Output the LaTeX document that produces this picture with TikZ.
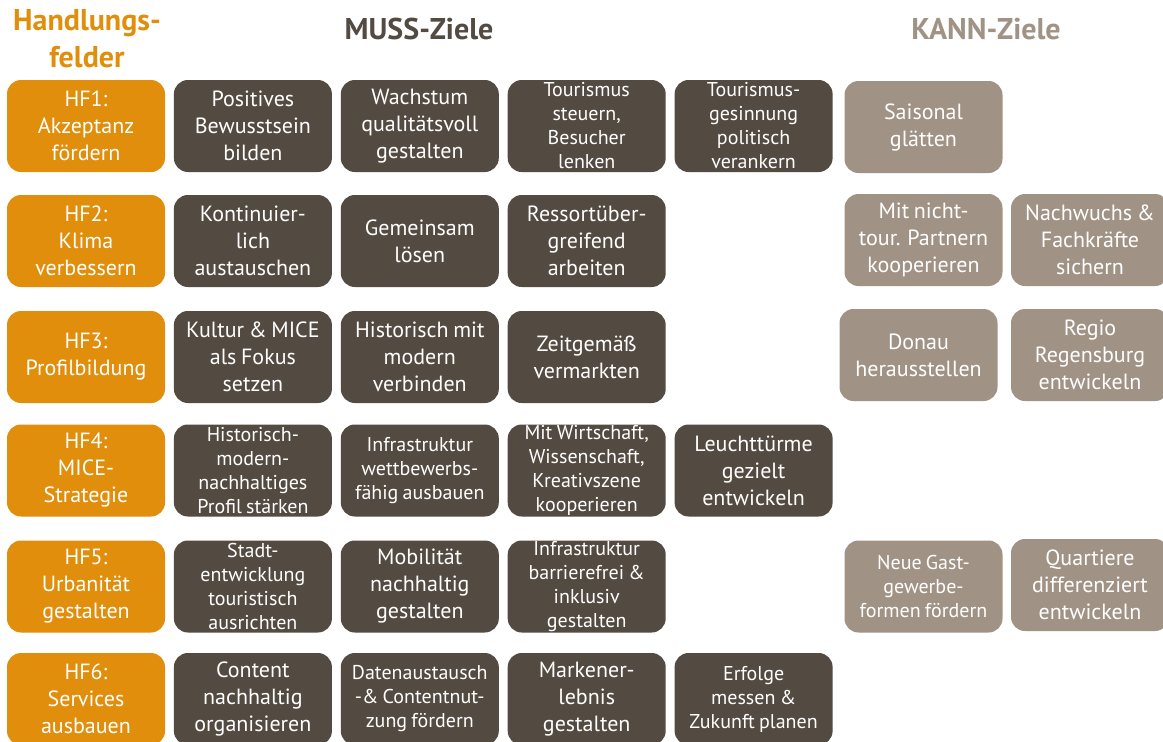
\documentclass[tikz,border=0pt]{standalone}
\usepackage{fontspec}
\setmainfont[WordSpace=0.8]{PT Sans}
\usetikzlibrary{positioning}
\definecolor{hforange}{RGB}{224,142,11}
\definecolor{mussbrown}{RGB}{83,74,66}
\definecolor{kanngray}{RGB}{160,147,134}
\tikzset{
  goal/.style={rounded corners=14pt, text=white, align=center,
    minimum width=158pt, minimum height=92pt, inner sep=0pt,
    font=\fontsize{22}{27}\selectfont},
  hfBlock/.style={goal, fill=hforange},
  mussBlock/.style={goal, fill=mussbrown},
  kannBlock/.style={goal, fill=kanngray},
  smalltext/.style={font=\fontsize{20}{24}\selectfont},
  heading/.style={font=\bfseries\fontsize{30}{37}\selectfont, align=center}
}

\begin{document}
\begin{tikzpicture}[x=1pt,y=-1pt]

\useasboundingbox (0,0) rectangle (1163,742);

% Headings
\node[heading, text=hforange] (hfTitle) at (87,39) {Handlungs-\\felder};
\node[heading, text=mussbrown] (mussTitle) at (419,29) {MUSS-Ziele};
\node[heading, text=kanngray] (kannTitle) at (986,29) {KANN-Ziele};

% HF1
\node[hfBlock] (hf1) at (86,126) {HF1:\\Akzeptanz\\fördern};
\node[mussBlock, right=8.5pt of hf1] (m11) {Positives\\Bewusstsein\\bilden};
\node[mussBlock, right=8.5pt of m11] (m12) {Wachstum\\qualitätsvoll\\gestalten};
\node[mussBlock, smalltext, right=8.5pt of m12] (m13) {Tourismus\\steuern,\\Besucher\\lenken};
\node[mussBlock, smalltext, right=8.5pt of m13] (m14) {Tourismus-\\gesinnung\\politisch\\verankern};
\node[kannBlock] (k11) at (923.5,127) {Saisonal\\glätten};

% HF2
\node[hfBlock] (hf2) at (86,241) {HF2:\\Klima\\verbessern};
\node[mussBlock, right=8.5pt of hf2] (m21) {Kontinuier-\\lich\\austauschen};
\node[mussBlock, right=8.5pt of m21] (m22) {Gemeinsam\\lösen};
\node[mussBlock, right=8.5pt of m22] (m23) {Ressortüber-\\greifend\\arbeiten};
\node[kannBlock] (k21) at (923.5,240) {Mit nicht-\\tour. Partnern\\kooperieren};
\node[kannBlock] (k22) at (1090,240) {Nachwuchs \&\\Fachkräfte\\sichern};

% HF3
\node[hfBlock] (hf3) at (86,357) {HF3:\\Profilbildung};
\node[mussBlock, right=8.5pt of hf3] (m31) {Kultur \& MICE\\als Fokus\\setzen};
\node[mussBlock, right=8.5pt of m31] (m32) {Historisch mit\\modern\\verbinden};
\node[mussBlock, right=8.5pt of m32] (m33) {Zeitgemäß\\vermarkten};
\node[kannBlock] (k31) at (918.5,355) {Donau\\herausstellen};
\node[kannBlock] (k32) at (1090,355) {Regio\\Regensburg\\entwickeln};

% HF4
\node[hfBlock] (hf4) at (86,470.5) {HF4:\\MICE-\\Strategie};
\node[mussBlock, smalltext, right=8.5pt of hf4] (m41) {Historisch-\\modern-\\nachhaltiges\\Profil stärken};
\node[mussBlock, smalltext, right=8.5pt of m41] (m42) {Infrastruktur\\wettbewerbs-\\fähig ausbauen};
\node[mussBlock, smalltext, right=8.5pt of m42] (m43) {Mit Wirtschaft,\\Wissenschaft,\\Kreativszene\\kooperieren};
\node[mussBlock, right=8.5pt of m43] (m44) {Leuchttürme\\gezielt\\entwickeln};

% HF5
\node[hfBlock] (hf5) at (86,586.5) {HF5:\\Urbanität\\gestalten};
\node[mussBlock, smalltext, right=8.5pt of hf5] (m51) {Stadt-\\entwicklung\\touristisch\\ausrichten};
\node[mussBlock, right=8.5pt of m51] (m52) {Mobilität\\nachhaltig\\gestalten};
\node[mussBlock, smalltext, right=8.5pt of m52] (m53) {Infrastruktur\\barrierefrei \&\\inklusiv\\gestalten};
\node[kannBlock, smalltext] (k51) at (923.5,586.5) {Neue Gast-\\gewerbe-\\formen fördern};
\node[kannBlock] (k52) at (1090,585) {Quartiere\\differenziert\\entwickeln};

% HF6
\node[hfBlock] (hf6) at (86,699) {HF6:\\Services\\ausbauen};
\node[mussBlock, right=8.5pt of hf6] (m61) {Content\\nachhaltig\\organisieren};
\node[mussBlock, smalltext, right=8.5pt of m61] (m62) {Datenaustausch\\-\& Contentnut-\\zung fördern};
\node[mussBlock, right=8.5pt of m62] (m63) {Markener-\\lebnis\\gestalten};
\node[mussBlock, smalltext, right=8.5pt of m63] (m64) {Erfolge\\messen \&\\Zukunft planen};

\end{tikzpicture}
\end{document}
